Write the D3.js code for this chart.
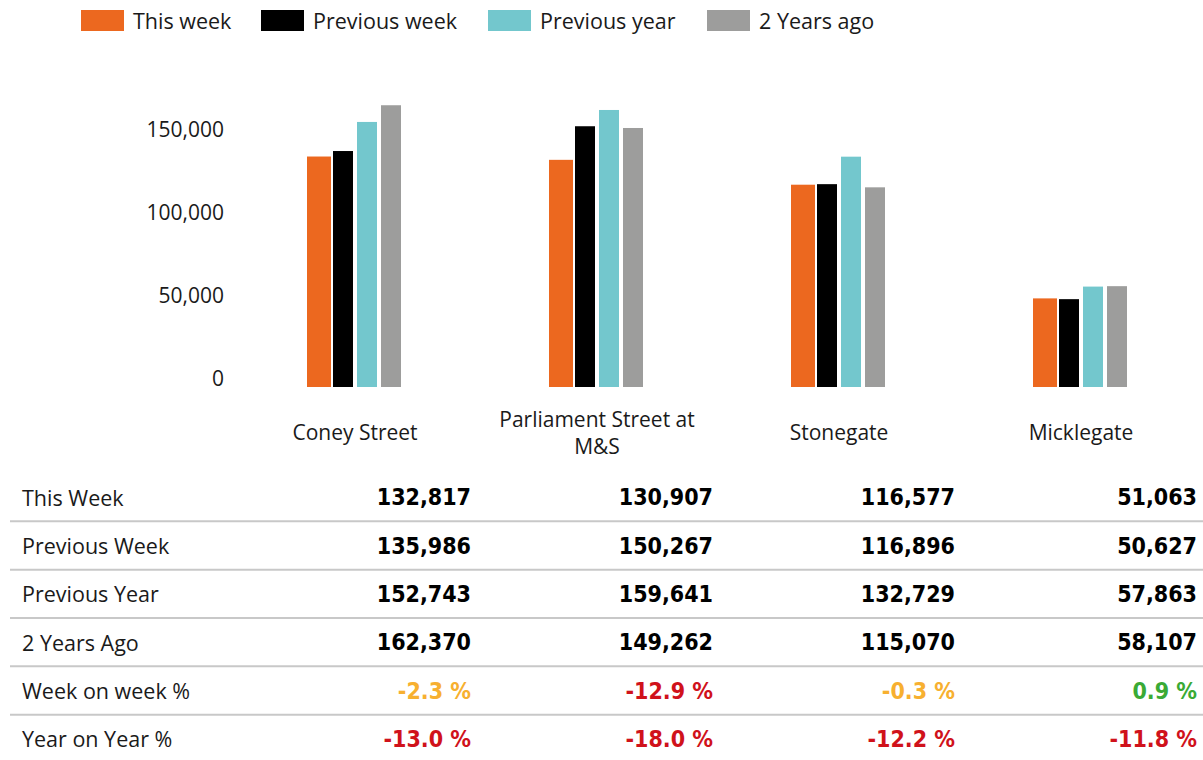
<!DOCTYPE html>
<html>
<head>
<meta charset="utf-8">
<script src="https://cdn.jsdelivr.net/npm/d3@7"></script>
<style>
  body { margin: 0; background: #fff; }
  svg text { font-family: "Open Sans", sans-serif; fill: #1a1a1a; }
  .num { font-family: "DejaVu Sans Condensed", "DejaVu Sans", sans-serif; font-stretch: condensed; font-weight: bold; }
</style>
</head>
<body>
<div id="chart"></div>
<script>
const categories = ['Coney Street', 'Parliament Street at M&S', 'Stonegate', 'Micklegate'];
const seriesNames = ['This week', 'Previous week', 'Previous year', '2 Years ago'];
const seriesColors = ['#ec681f', '#000000', '#73c7cd', '#9d9d9c'];

const thisWeek = [132817, 130907, 116577, 51063];
const previousWeek = [135986, 150267, 116896, 50627];
const previousYear = [152743, 159641, 132729, 57863];
const twoYearsAgo = [162370, 149262, 115070, 58107];
const weekOnWeek = [-2.3, -12.9, -0.3, 0.9];
const yearOnYear = [-13.0, -18.0, -12.2, -11.8];

const yTicks = [0, 50000, 100000, 150000];
const rowLabels = ['This Week', 'Previous Week', 'Previous Year', '2 Years Ago', 'Week on week %', 'Year on Year %'];

const series = [thisWeek, previousWeek, previousYear, twoYearsAgo];

const width = 1203, height = 760;
const svg = d3.select('#chart').append('svg')
    .attr('width', width)
    .attr('height', height);

// legend
const legendX = [81, 261, 488, 707];
const legend = svg.append('g');
seriesNames.forEach((name, i) => {
    const g = legend.append('g').attr('transform', `translate(${legendX[i]},10)`);
    g.append('rect')
        .attr('width', 43).attr('height', 21)
        .attr('fill', seriesColors[i]);
    g.append('text')
        .attr('x', 52).attr('y', 10)
        .attr('dominant-baseline', 'central')
        .style('font-size', '21.5px')
        .text(name);
});

// scales
const x = d3.scaleBand()
    .domain(categories)
    .range([234, 1202]);

const xSub = d3.scaleBand()
    .domain(d3.range(series.length))
    .range([0, 96]);

const y = d3.scaleLinear()
    .domain([0, 170000])
    .range([387, 92]);

// tick labels sit a little off the bar scale in the original
const yLabel = d3.scaleLinear()
    .domain([0, 150000])
    .range([379, 129.5]);

svg.append('g')
    .attr('transform', 'translate(224,0)')
    .call(d3.axisLeft(yLabel).tickValues(yTicks).tickSize(0).tickPadding(0).tickFormat(d3.format(',')))
    .call(g => g.select('.domain').remove())
    .selectAll('text')
    .style('font-size', '21px')
    .attr('fill', '#1a1a1a');

// bars
series.forEach((values, si) => {
    svg.append('g')
        .selectAll('rect')
        .data(values)
        .join('rect')
        .attr('x', (d, i) => {
            const slot = x(categories[i]) + (x.bandwidth() - 96) / 2 + xSub(si);
            return si === 0 ? slot : slot + 2;
        })
        .attr('width', si === 0 ? xSub.bandwidth() : xSub.bandwidth() - 4)
        .attr('y', d => y(d))
        .attr('height', d => y(0) - y(d))
        .attr('fill', seriesColors[si]);
});

// category labels
function wrap(text, maxWidth) {
    text.each(function() {
        const t = d3.select(this);
        const words = t.text().split(/\s+/);
        const cx = t.attr('x');
        t.text(null);
        let lines = [];
        let line = [];
        const probe = t.append('tspan');
        words.forEach(w => {
            line.push(w);
            probe.text(line.join(' '));
            if (probe.node().getComputedTextLength() > maxWidth && line.length > 1) {
                line.pop();
                lines.push(line.join(' '));
                line = [w];
            }
        });
        lines.push(line.join(' '));
        probe.remove();
        const lh = 27;
        const startY = 432 - (lines.length - 1) * lh / 2;
        lines.forEach((l, k) => {
            t.append('tspan')
                .attr('x', cx)
                .attr('y', startY + k * lh)
                .attr('dominant-baseline', 'central')
                .text(l);
        });
    });
}

svg.append('g')
    .selectAll('text')
    .data(categories)
    .join('text')
    .attr('x', d => x(d) + x.bandwidth() / 2)
    .attr('text-anchor', 'middle')
    .style('font-size', '21px')
    .text(d => d)
    .call(wrap, 225);

// table
const tableRows = [thisWeek, previousWeek, previousYear, twoYearsAgo, weekOnWeek, yearOnYear];
const rowY = d3.scaleBand()
    .domain(d3.range(rowLabels.length))
    .range([473, 763]);

const fmt = d3.format(',');
function pctColor(v) {
    if (v > 0) return '#3aaa35';
    if (v > -5) return '#f7b030';
    return '#d0121b';
}

const table = svg.append('g');
rowLabels.forEach((label, r) => {
    const cy = rowY(r) + rowY.bandwidth() / 2;
    if (r > 0) {
        table.append('line')
            .attr('x1', 10).attr('x2', 1203)
            .attr('y1', rowY(r)).attr('y2', rowY(r))
            .attr('stroke', '#c8c8c8')
            .attr('stroke-width', 2);
    }
    table.append('text')
        .attr('x', 22).attr('y', cy)
        .attr('dominant-baseline', 'central')
        .style('font-size', '21.5px')
        .text(label);
    tableRows[r].forEach((v, c) => {
        const isPct = r >= 4;
        table.append('text')
            .attr('class', 'num')
            .attr('x', x(categories[c]) + x.bandwidth() / 2 + 116)
            .attr('y', cy)
            .attr('text-anchor', 'end')
            .attr('dominant-baseline', 'central')
            .style('font-size', '23px')
            .style('fill', isPct ? pctColor(v) : '#000')
            .text(isPct ? `${v.toFixed(1)} %` : fmt(v));
    });
});
</script>
</body>
</html>
